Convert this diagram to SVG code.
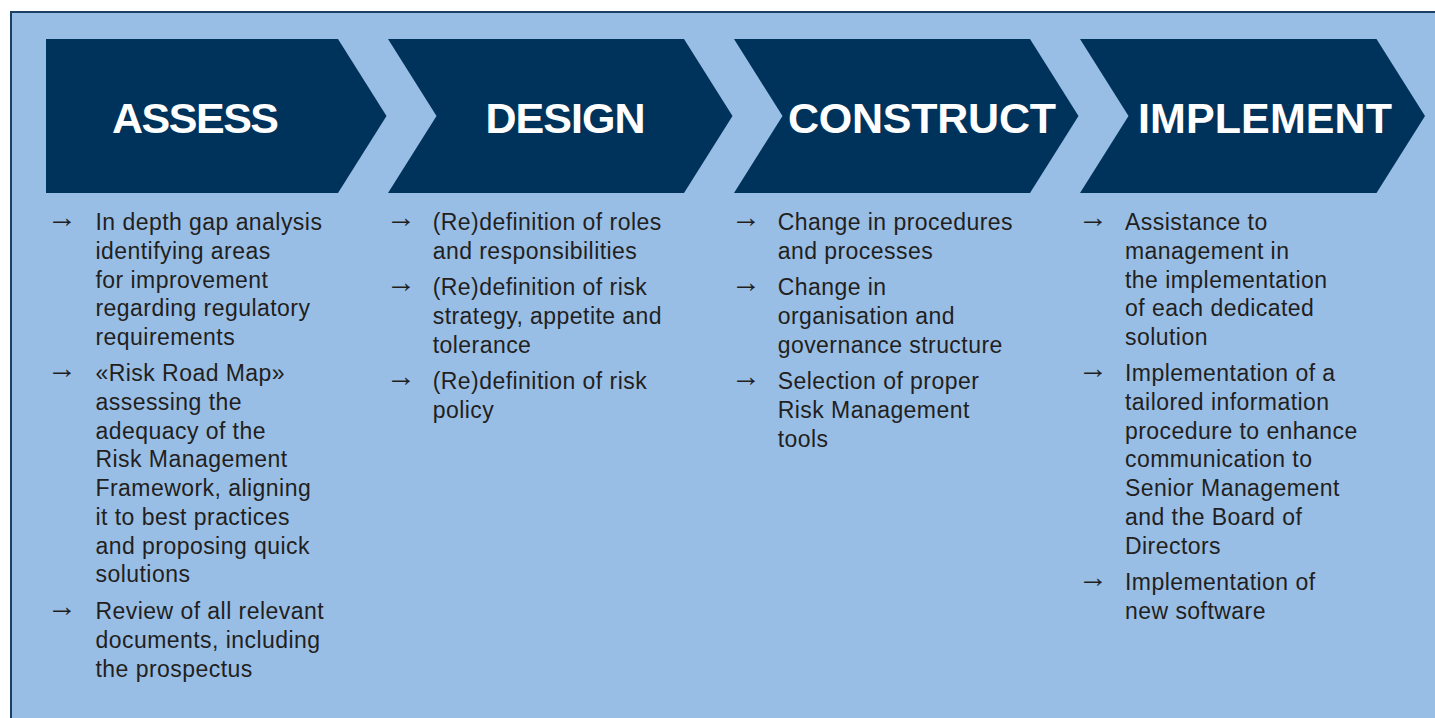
<svg xmlns="http://www.w3.org/2000/svg" width="1435" height="718" viewBox="0 0 1435 718">
<style>
.chev{fill:#00335c;}
.title{font-family:"Liberation Sans",Arial,sans-serif;font-weight:bold;font-size:43px;fill:#ffffff;text-anchor:middle;}
.body{font-family:"Liberation Sans",Arial,sans-serif;font-size:23px;fill:#231f20;letter-spacing:0.45px;}
.arr{font-family:"Liberation Sans",Arial,sans-serif;font-size:30px;fill:#231f20;}
</style>
<rect x="0" y="0" width="1435" height="718" fill="#ffffff"/>
<rect id="frame" x="11" y="12" width="1440" height="720" fill="#98bee6" stroke="#1c3f66" stroke-width="2"/>
<g id="connectors"></g>
<g id="assess">
<path class="chev" d="M46,39 L338,39 L386.5,116 L338,193 L46,193 Z"/>
<text class="title" x="195.5" y="133" textLength="167" lengthAdjust="spacing">ASSESS</text>
<text class="arr" x="47" y="227">→</text>
<text class="body" x="95.5" y="230">In depth gap analysis</text>
<text class="body" x="95.5" y="258.75">identifying areas</text>
<text class="body" x="95.5" y="287.5">for improvement</text>
<text class="body" x="95.5" y="316.25">regarding regulatory</text>
<text class="body" x="95.5" y="345">requirements</text>
<text class="arr" x="47" y="378">→</text>
<text class="body" x="95.5" y="381">«Risk Road Map»</text>
<text class="body" x="95.5" y="409.75">assessing the</text>
<text class="body" x="95.5" y="438.5">adequacy of the</text>
<text class="body" x="95.5" y="467.25">Risk Management</text>
<text class="body" x="95.5" y="496">Framework, aligning</text>
<text class="body" x="95.5" y="524.75">it to best practices</text>
<text class="body" x="95.5" y="553.5">and proposing quick</text>
<text class="body" x="95.5" y="582.25">solutions</text>
<text class="arr" x="47" y="616">→</text>
<text class="body" x="95.5" y="619">Review of all relevant</text>
<text class="body" x="95.5" y="647.75">documents, including</text>
<text class="body" x="95.5" y="676.5">the prospectus</text>
</g>
<g id="design">
<path class="chev" d="M388,39 L684,39 L732.5,116 L684,193 L388,193 L436.5,116 Z"/>
<text class="title" x="565.5" y="133" textLength="160" lengthAdjust="spacing">DESIGN</text>
<text class="arr" x="386" y="227">→</text>
<text class="body" x="432.7" y="230">(Re)definition of roles</text>
<text class="body" x="432.7" y="258.75">and responsibilities</text>
<text class="arr" x="386" y="292">→</text>
<text class="body" x="432.7" y="295">(Re)definition of risk</text>
<text class="body" x="432.7" y="323.75">strategy, appetite and</text>
<text class="body" x="432.7" y="352.5">tolerance</text>
<text class="arr" x="386" y="386">→</text>
<text class="body" x="432.7" y="389">(Re)definition of risk</text>
<text class="body" x="432.7" y="417.75">policy</text>
</g>
<g id="construct">
<path class="chev" d="M734,39 L1030,39 L1078.5,116 L1030,193 L734,193 L782.5,116 Z"/>
<text class="title" x="922" y="133" textLength="268" lengthAdjust="spacing">CONSTRUCT</text>
<text class="arr" x="731" y="227">→</text>
<text class="body" x="777.7" y="230">Change in procedures</text>
<text class="body" x="777.7" y="258.75">and processes</text>
<text class="arr" x="731" y="292">→</text>
<text class="body" x="777.7" y="295">Change in</text>
<text class="body" x="777.7" y="323.75">organisation and</text>
<text class="body" x="777.7" y="352.5">governance structure</text>
<text class="arr" x="731" y="386">→</text>
<text class="body" x="777.7" y="389">Selection of proper</text>
<text class="body" x="777.7" y="417.75">Risk Management</text>
<text class="body" x="777.7" y="446.5">tools</text>
</g>
<g id="implement">
<path class="chev" d="M1080,39 L1376.5,39 L1425,116 L1376.5,193 L1080,193 L1128.5,116 Z"/>
<text class="title" x="1265" y="133" textLength="254" lengthAdjust="spacing">IMPLEMENT</text>
<text class="arr" x="1078" y="227">→</text>
<text class="body" x="1125" y="230">Assistance to</text>
<text class="body" x="1125" y="258.75">management in</text>
<text class="body" x="1125" y="287.5">the implementation</text>
<text class="body" x="1125" y="316.25">of each dedicated</text>
<text class="body" x="1125" y="345">solution</text>
<text class="arr" x="1078" y="378">→</text>
<text class="body" x="1125" y="381">Implementation of a</text>
<text class="body" x="1125" y="409.75">tailored information</text>
<text class="body" x="1125" y="438.5">procedure to enhance</text>
<text class="body" x="1125" y="467.25">communication to</text>
<text class="body" x="1125" y="496">Senior Management</text>
<text class="body" x="1125" y="524.75">and the Board of</text>
<text class="body" x="1125" y="553.5">Directors</text>
<text class="arr" x="1078" y="587">→</text>
<text class="body" x="1125" y="590">Implementation of</text>
<text class="body" x="1125" y="618.75">new software</text>
</g>
</svg>
